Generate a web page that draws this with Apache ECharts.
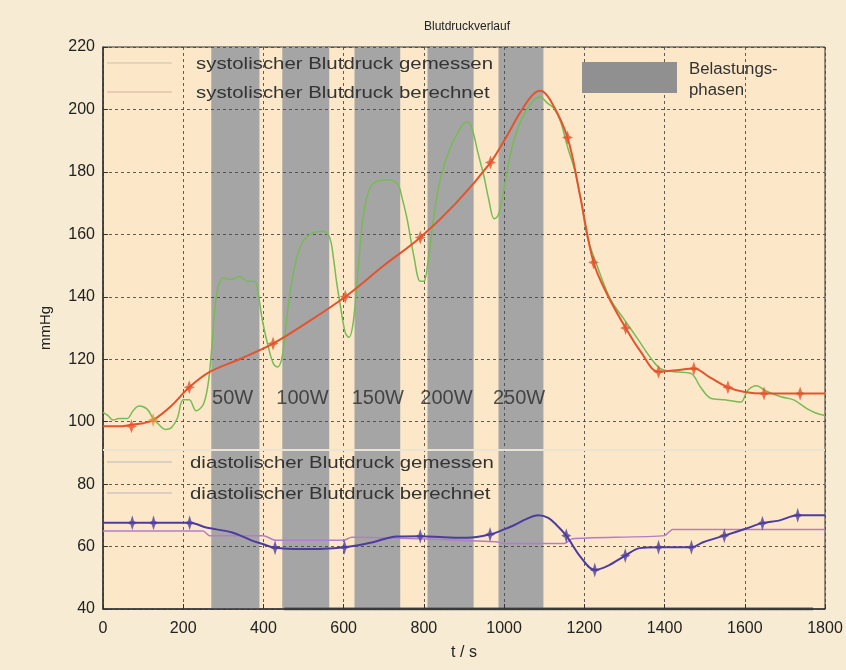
<!DOCTYPE html>
<html>
<head>
<meta charset="utf-8">
<script src="https://cdn.jsdelivr.net/npm/echarts@6/dist/echarts.min.js"></script>
<style>
html,body{margin:0;padding:0;background:#f7ebd3;}
#c{width:846px;height:670px;}
</style>
</head>
<body>
<div id="c"></div>
<script>
// ---- data ----
var xTicks = [0,200,400,600,800,1000,1200,1400,1600,1800];
var yTicks = [40,60,80,100,120,140,160,180,200,220];

var bandStart = [270,447,627,809,986];
var bandEnd   = [390,564,741,924,1098];
var bandLabel = ['50W','100W','150W','200W','250W'];
var bandLabelT = [272,432,620,791,972];
var bandLabelV = 107.5;

var sysMeasT = [0,12,25,40,60,75,90,110,125,140,155,170,185,200,215,232,250,262,270,278,287,300,320,340,360,378,388,398,412,425,435,447,458,467,484,500,524,549,565,575,582,592,604,613,624,637,649,666,683,710,735,745,758,775,791,800,811,824,838,855,874,899,911,922,935,949,962,975,985,999,1010,1024,1048,1074,1090,1108,1123,1141,1158,1175,1190,1208,1233,1266,1298,1333,1365,1390,1423,1465,1490,1515,1550,1590,1607,1630,1650,1690,1722,1757,1777,1800];
var sysMeasV = [103,102,100.5,101,101,103.5,105,104,101,99,97.5,98,101,107,107,103.5,105.5,112,122,135,143,146,145.5,146.5,145,145,140,132,124,118.5,117.5,121,133,142,153,158,160.5,161,159,152,145,137,128.5,127,132,150,166,175,177,177.5,176,172,165,153,145,145,152,165,176,184,190,195.5,196,193,186,179,171,165,166,174,182,190,198,203,204,202,200.5,196,188,181,172,159,149.5,139,133,126.5,120.5,117,116,115.5,111,107.5,107,106.3,110,111.5,110,108,107,104,102.8,102];

var sysCalcT = [0,40,71,100,125,170,215,267,340,424,500,604,700,791,880,966,1000,1040,1070,1090,1115,1158,1190,1223,1260,1303,1340,1385,1430,1473,1515,1558,1600,1648,1700,1738,1800];
var sysCalcV = [98.5,98.5,99,99.5,100.5,105,111,116,120,125,131,140,150,159,170,183,190,199,204.5,206,203,191,172,151,140,130,122.5,116,116.5,117,114,111,109.5,109,109,109,109];
var sysMarkT = [71,125,215,424,604,791,966,1158,1223,1303,1385,1473,1558,1648,1738];
var sysMarkV = [98.5,100.5,111,125,140,159,183,191,151,130,116,117,111,109,109];

var diaCalcT = [0,73,126,216,260,320,370,396,429,500,550,602,640,673,732,791,850,908,965,1000,1026,1055,1085,1110,1130,1155,1191,1226,1261,1302,1338,1385,1467,1496,1549,1602,1644,1685,1732,1800];
var diaCalcV = [67.6,67.6,67.6,67.6,66,64.6,62,60.9,59.6,59.2,59.3,59.8,60.5,61.4,63.2,63.3,63,62.8,63.9,65.5,66.9,68.8,70,69.2,67,63.5,56.6,52.5,54,57.1,59.5,59.8,59.8,61.4,63.5,65.7,67.5,68.3,70,70];
var diaMarkT = [73,126,216,429,602,791,965,1155,1226,1302,1385,1467,1549,1644,1732];
var diaMarkV = [67.6,67.6,67.6,59.6,59.8,63.3,63.9,63.5,52.5,57.1,59.8,59.8,63.5,67.5,70];

var diaMeasT = [0,250,265,400,430,600,620,790,980,1000,1150,1170,1400,1420,1800];
var diaMeasV = [65,65,63.5,63.5,62,62,63,62.5,61.5,61,61,62.5,63.5,65.5,65.5];

var bottomLineT = [452,1770];
var bottomLineV = [40,40];
var stripeV = 91;

function zip(a,b){ return a.map(function(v,i){ return [v,b[i]]; }); }

var FONT = '"Liberation Sans", Arial, sans-serif';
var star = 'path://M0,-10L2.4,-2.4L7,0L2.4,2.4L0,10L-2.4,2.4L-7,0L-2.4,-2.4Z';

var chart = echarts.init(document.getElementById('c'));
var bandAreas = bandStart.map(function(s,i){ return [{xAxis:s, yAxis:40},{xAxis:bandEnd[i], yAxis:220}]; });

function legText(x, y, txt) {
  return {type: 'text', x: x, y: y, scaleX: 1.2, z: 10,
    style: {text: txt, font: '17px ' + FONT, fill: '#333', textVerticalAlign: 'middle'}};
}

var option = {
  backgroundColor: '#f7ebd3',
  animation: false,
  title: {
    text: 'Blutdruckverlauf', left: 462, top: 16, textAlign: 'center',
    textStyle: {fontFamily: FONT, fontSize: 12, fontWeight: 'normal', color: '#222'}
  },
  grid: {left: 103, right: 21, top: 47, bottom: 61, show: true,
         backgroundColor: '#fce8c8', borderColor: '#333', borderWidth: 1},
  xAxis: {
    type: 'value', min: 0, max: 1800, interval: 200, z: 3,
    name: 't / s', nameLocation: 'middle', nameGap: 36,
    nameTextStyle: {fontFamily: FONT, fontSize: 16, color: '#222'},
    axisLine: {show: true, lineStyle: {color: '#333', width: 1.5}},
    axisTick: {show: true, inside: true, length: 5, lineStyle: {color: '#333'}},
    axisLabel: {fontFamily: FONT, fontSize: 16, color: '#222', margin: 12,
      formatter: function(v){ return xTicks.indexOf(v) >= 0 ? String(v) : ''; }},
    splitLine: {show: true, lineStyle: {color: '#444', type: [3,3], width: 1, opacity: 0.85}}
  },
  yAxis: {
    type: 'value', min: 40, max: 220, interval: 20, z: 3,
    name: 'mmHg', nameLocation: 'middle', nameGap: 50, nameRotate: 90,
    nameTextStyle: {fontFamily: FONT, fontSize: 15, color: '#222'},
    axisLine: {show: true, lineStyle: {color: '#333', width: 1.5}},
    axisTick: {show: true, inside: true, length: 5, lineStyle: {color: '#333'}},
    axisLabel: {fontFamily: FONT, fontSize: 16, color: '#222', margin: 8,
      formatter: function(v){ return yTicks.indexOf(v) >= 0 ? String(v) : ''; }},
    splitLine: {show: true, lineStyle: {color: '#444', type: [3,3], width: 1, opacity: 0.85}}
  },
  series: [
    {
      type: 'line', z: 1, silent: true, symbol: 'none', data: zip(bottomLineT, bottomLineV),
      lineStyle: {color: '#555', width: 3},
      markArea: {silent: true, itemStyle: {color: '#a5a5a5'}, data: bandAreas},
      markLine: {silent: true, symbol: 'none', label: {show: false},
        lineStyle: {color: '#ece4d3', width: 2, type: 'solid'}, data: [{yAxis: stripeV}]}
    },
    {
      type: 'scatter', z: 4, silent: true, symbolSize: 0,
      data: bandLabelT.map(function(t,i){ return {value: [t, bandLabelV], name: bandLabel[i]}; }),
      label: {show: true, position: 'right', distance: 0, formatter: '{b}',
        fontFamily: FONT, fontSize: 20, color: '#2a2a2a'}
    },
    {
      name: 'systolischer Blutdruck gemessen', type: 'line', z: 5, symbol: 'none', smooth: 0.35,
      data: zip(sysMeasT, sysMeasV), lineStyle: {color: '#78bb55', width: 1.5}
    },
    {
      name: 'systolischer Blutdruck berechnet', type: 'line', z: 6, symbol: 'none', smooth: 0.35,
      data: zip(sysCalcT, sysCalcV), lineStyle: {color: '#e4532c', width: 2}
    },
    {
      type: 'scatter', z: 7, symbol: star, symbolSize: [11,14],
      data: sysMarkT.map(function(t,i){
        return {value: [t, sysMarkV[i]], itemStyle: {color: i === 1 ? '#dc9a3c' : '#e4532c'}};
      })
    },
    {
      name: 'diastolischer Blutdruck gemessen', type: 'line', z: 5, symbol: 'none', smooth: 0.2,
      data: zip(diaMeasT, diaMeasV), lineStyle: {color: '#b47ccb', width: 1.5}
    },
    {
      name: 'diastolischer Blutdruck berechnet', type: 'line', z: 6, symbol: 'none', smooth: 0.35,
      data: zip(diaCalcT, diaCalcV), lineStyle: {color: '#4c3c9e', width: 2}
    },
    {
      type: 'scatter', z: 7, symbol: star, symbolSize: [10,15], itemStyle: {color: '#4c3c9e'},
      data: zip(diaMarkT, diaMarkV)
    }
  ],
  graphic: [
    {type: 'line', shape: {x1: 107, y1: 63, x2: 172, y2: 63}, style: {stroke: '#d9cfb8', lineWidth: 1.5}, z: 10},
    {type: 'line', shape: {x1: 107, y1: 92, x2: 172, y2: 92}, style: {stroke: '#e3c2ae', lineWidth: 1.5}, z: 10},
    legText(196, 64, 'systolischer Blutdruck gemessen'),
    legText(196, 93, 'systolischer Blutdruck berechnet'),
    {type: 'line', shape: {x1: 107, y1: 462, x2: 172, y2: 462}, style: {stroke: '#cfc8c0', lineWidth: 1.5}, z: 10},
    {type: 'line', shape: {x1: 107, y1: 493, x2: 172, y2: 493}, style: {stroke: '#d5c3c6', lineWidth: 1.5}, z: 10},
    legText(190, 463, 'diastolischer Blutdruck gemessen'),
    legText(190, 494, 'diastolischer Blutdruck berechnet'),
    {type: 'rect', shape: {x: 582, y: 62, width: 95, height: 31}, style: {fill: '#909090'}, z: 10},
    {type: 'text', x: 689, y: 59, scaleX: 1.05, z: 10, style: {text: 'Belastungs-\nphasen', font: '16px ' + FONT, fill: '#333', lineHeight: 21}}
  ]
};
chart.setOption(option);
</script>
</body>
</html>
